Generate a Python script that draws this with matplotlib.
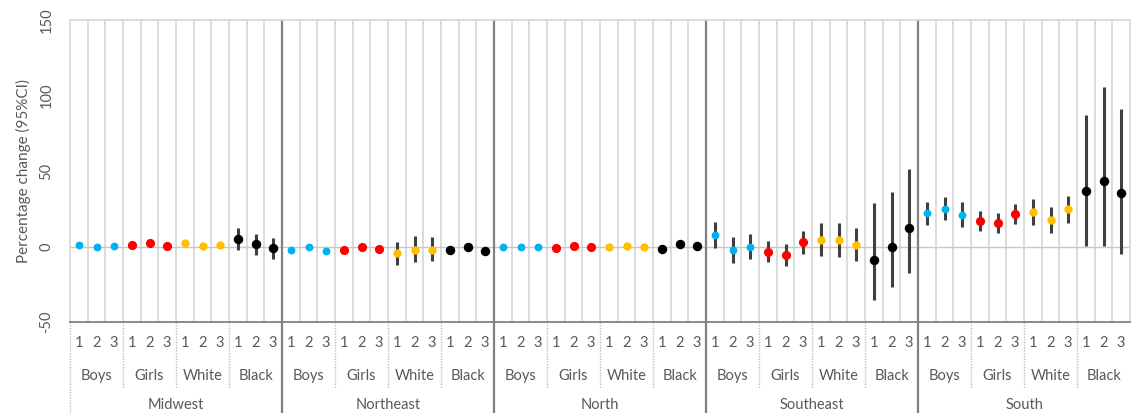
import numpy as np
import matplotlib
matplotlib.use("Agg")
import matplotlib.pyplot as plt
import matplotlib.transforms as mtransforms

plt.rcParams['font.family'] = ['Lato', 'DejaVu Sans']

regions = ["Midwest", "Northeast", "North", "Southeast", "South"]
groups = ["Boys", "Girls", "White", "Black"]
periods = ["1", "2", "3"]

# estimate, lower CI, upper CI per region -> group -> period
est = {
    "Midwest":   [[1.0, 0.0, 0.5], [1.0, 2.0, 0.5], [2.0, 0.5, 1.0], [4.9, 1.8, -1.3]],
    "Northeast": [[-2.0, -0.4, -3.3], [-2.4, -0.4, -1.5], [-4.2, -2.0, -2.0], [-2.4, -0.4, -3.3]],
    "North":     [[-0.2, -0.2, -0.2], [-0.7, 0.4, -0.2], [-0.2, 0.4, -0.2], [-1.8, 1.8, 0.2]],
    "Southeast": [[7.6, -2.2, 0.0], [-3.8, -5.6, 2.9], [4.4, 4.4, 0.9], [-8.7, 0.0, 12.2]],
    "South":     [[22.2, 24.9, 21.1], [17.1, 15.6, 21.8], [22.9, 17.3, 24.7], [36.9, 43.3, 35.1]],
}
lower = {
    "Midwest":   [[0.0, -1.0, -0.5], [0.0, 1.0, -0.5], [1.0, -0.5, 0.0], [-2.2, -5.6, -8.0]],
    "Northeast": [[-3.0, -1.4, -4.3], [-3.4, -1.4, -2.5], [-12.0, -10.4, -9.8], [-3.4, -1.4, -4.3]],
    "North":     [[-1.2, -1.2, -1.2], [-1.7, -0.6, -1.2], [-1.2, -0.6, -1.2], [-4.0, -0.5, -1.5]],
    "Southeast": [[-0.9, -10.9, -8.2], [-10.4, -12.7, -4.7], [-6.4, -6.9, -9.8], [-35.3, -26.7, -17.6]],
    "South":     [[14.4, 17.3, 12.9], [10.2, 8.7, 14.9], [14.0, 8.7, 15.3], [0.2, 0.2, -4.9]],
}
upper = {
    "Midwest":   [[2.0, 1.0, 1.5], [2.0, 3.0, 1.5], [3.0, 1.5, 2.0], [12.0, 8.4, 5.3]],
    "Northeast": [[-1.0, 0.6, -2.3], [-1.4, 0.6, -0.5], [3.3, 6.7, 6.0], [-1.4, 0.6, -2.3]],
    "North":     [[0.8, 0.8, 0.8], [0.3, 1.4, 0.8], [0.8, 1.4, 0.8], [0.5, 4.0, 2.0]],
    "Southeast": [[16.2, 6.2, 8.0], [3.6, 1.6, 10.2], [15.8, 15.8, 12.0], [29.1, 36.2, 51.3]],
    "South":     [[29.6, 32.9, 29.6], [23.3, 22.0, 28.4], [31.3, 26.4, 33.6], [86.9, 105.8, 90.9]],
}

colors = {"Boys": "#00B0F0", "Girls": "#FF0000", "White": "#FFC000", "Black": "#000000"}
msizes = {"Boys": 4.6, "Girls": 5.6, "White": 5.0, "Black": 5.8}

fig = plt.figure(figsize=(11.33, 4.13), dpi=100)
ax = fig.add_axes([70 / 1133, 1 - 322 / 413, 1060 / 1133, 302 / 413])

n_per_region = len(groups) * len(periods)
n_total = n_per_region * len(regions)
ax.set_xlim(-0.5, n_total - 0.5)
ax.set_ylim(-50, 150)

# light cell gridlines and darker region separators
for k in range(1, n_total):
    xb = k - 0.5
    if k % n_per_region == 0:
        continue
    ax.axvline(xb, color="#D9D9D9", lw=1.3, zorder=0)
ax.axhline(0, color="#C8C8C8", lw=1.0, zorder=0)

for r, reg in enumerate(regions):
    for g, grp in enumerate(groups):
        for p in range(len(periods)):
            x = r * n_per_region + g * len(periods) + p
            ax.vlines(x, lower[reg][g][p], upper[reg][g][p], color="#404040", lw=2.2, zorder=2)
            ax.plot(x, est[reg][g][p], "o", color=colors[grp], ms=msizes[grp],
                    mec=colors[grp], zorder=3)

ax.set_xticks([])
ax.set_yticks([-50, 0, 50, 100, 150])
ax.set_yticklabels(["-50", "0", "50", "100", "150"], rotation=90, va="center",
                   color="#595959", fontsize=10.5)
ax.tick_params(axis="y", length=0, pad=12)
ax.set_ylabel("Percentage change (95%CI)", color="#595959", fontsize=11, labelpad=6)

for side in ["top", "right", "left"]:
    ax.spines[side].set_color("#D9D9D9")
    ax.spines[side].set_linewidth(1.3)
ax.spines["bottom"].set_color("#808080")
ax.spines["bottom"].set_linewidth(1.3)

trans = mtransforms.blended_transform_factory(ax.transData, ax.transAxes)

# multi-level category labels under the axis
for r, reg in enumerate(regions):
    r0 = r * n_per_region
    ax.text(r0 + n_per_region / 2 - 0.5, -0.275, reg, transform=trans, ha="center",
            va="center", fontsize=10.5, color="#595959", clip_on=False)
    for g, grp in enumerate(groups):
        g0 = r0 + g * len(periods)
        ax.text(g0 + 1, -0.18, grp, transform=trans, ha="center", va="center",
                fontsize=10.5, color="#595959", clip_on=False)
        for p, lab in enumerate(periods):
            ax.text(g0 + p, -0.068, lab, transform=trans, ha="center", va="center",
                    fontsize=10.5, color="#595959", clip_on=False)
        if g > 0:
            ax.plot([g0 - 0.5, g0 - 0.5], [0, -0.22], transform=trans, color="#BFBFBF",
                    lw=1.0, ls=(0, (1, 1)), clip_on=False)

# region separators run from the top of the plot down through the labels
for r in range(len(regions) + 1):
    xb = r * n_per_region - 0.5
    if r == 0:
        ax.plot([xb, xb], [0, -0.31], transform=trans, color="#BFBFBF", lw=1.0,
                ls=(0, (1, 1)), clip_on=False)
    elif r == len(regions):
        continue
    else:
        ax.plot([xb, xb], [1, -0.31], transform=trans, color="#808080", lw=1.6,
                clip_on=False, zorder=1)

fig.savefig("out.png", dpi=100)
